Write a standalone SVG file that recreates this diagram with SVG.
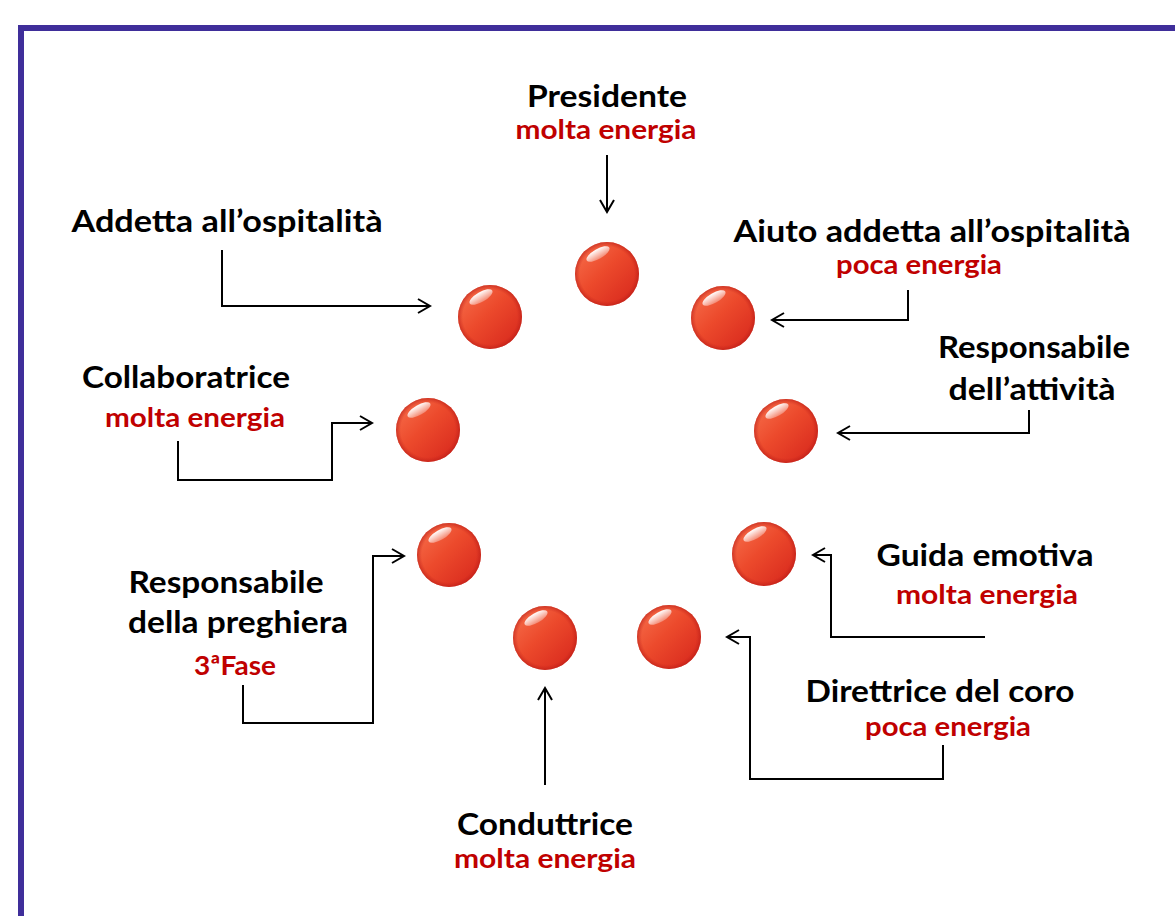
<svg xmlns="http://www.w3.org/2000/svg" width="1175" height="916" viewBox="0 0 1175 916">
<style>
.t{font-family:Lato,"Open Sans","Liberation Sans",sans-serif;font-weight:700;font-size:31px;fill:#000;text-anchor:middle}
.r{font-family:Lato,"Open Sans","Liberation Sans",sans-serif;font-weight:700;font-size:27px;fill:#c00000;text-anchor:middle}
.c{fill:none;stroke:#000;stroke-width:2}
</style>
<defs>
<linearGradient id="ball" x1="0" y1="0" x2="1" y2="1">
<stop offset="0" stop-color="#f8734f"/>
<stop offset="0.45" stop-color="#ec4a2c"/>
<stop offset="1" stop-color="#d5241b"/>
</linearGradient>
<radialGradient id="rim" cx="0.5" cy="0.5" r="0.5">
<stop offset="0.85" stop-color="#c0201a" stop-opacity="0"/>
<stop offset="1" stop-color="#b81c16" stop-opacity="0.6"/>
</radialGradient>
<linearGradient id="hl" x1="0" y1="0" x2="0" y2="1">
<stop offset="0" stop-color="#ffffff" stop-opacity="1"/>
<stop offset="1" stop-color="#ffffff" stop-opacity="0.3"/>
</linearGradient>
<marker id="ar" markerUnits="userSpaceOnUse" markerWidth="16" markerHeight="18" refX="14" refY="9" orient="auto">
<path d="M2,2 L14,9 L2,16" fill="none" stroke="#000" stroke-width="2"/>
</marker>
<g id="sphere">
<circle r="32" fill="url(#ball)"/>
<circle r="32" fill="url(#rim)"/>
<ellipse cx="-9" cy="-20" rx="13" ry="5" transform="rotate(-30 -9 -20)" fill="url(#hl)"/>
</g>
</defs>
<rect x="0" y="0" width="1175" height="916" fill="#fff"/>
<rect x="21" y="28" width="1200" height="1000" fill="none" stroke="#3f2e9a" stroke-width="6"/>

<g id="connectors">
<path class="c" d="M607,155 V212" marker-end="url(#ar)"/>
<path class="c" d="M222,250 V306 H430" marker-end="url(#ar)"/>
<path class="c" d="M908,290 V320 H772" marker-end="url(#ar)"/>
<path class="c" d="M1029,410 V433 H838" marker-end="url(#ar)"/>
<path class="c" d="M178,441 V480 H332 V423 H372" marker-end="url(#ar)"/>
<path class="c" d="M243,685 V723 H373 V556 H404" marker-end="url(#ar)"/>
<path class="c" d="M985,637 H831 V555 H813" marker-end="url(#ar)"/>
<path class="c" d="M943,745 V779 H750 V637 H727" marker-end="url(#ar)"/>
<path class="c" d="M545,785 V688" marker-end="url(#ar)"/>
</g>

<g id="spheres">
<use href="#sphere" x="607" y="274"/>
<use href="#sphere" x="490" y="317"/>
<use href="#sphere" x="723" y="318"/>
<use href="#sphere" x="428" y="430"/>
<use href="#sphere" x="786" y="431"/>
<use href="#sphere" x="449" y="555"/>
<use href="#sphere" x="764" y="554"/>
<use href="#sphere" x="545" y="638"/>
<use href="#sphere" x="669" y="637"/>
</g>

<g id="presidente">
<text class="t" x="607" y="107" textLength="160" lengthAdjust="spacingAndGlyphs">Presidente</text>
<text class="r" x="606" y="139" textLength="181" lengthAdjust="spacingAndGlyphs">molta energia</text>
</g>
<g id="addetta">
<text class="t" x="227" y="232" textLength="311" lengthAdjust="spacingAndGlyphs">Addetta all’ospitalità</text>
</g>
<g id="aiuto">
<text class="t" x="932" y="242" textLength="397" lengthAdjust="spacingAndGlyphs">Aiuto addetta all’ospitalità</text>
<text class="r" x="919" y="274" textLength="166" lengthAdjust="spacingAndGlyphs">poca energia</text>
</g>
<g id="responsabile-attivita">
<text class="t" x="1034" y="358" textLength="192" lengthAdjust="spacingAndGlyphs">Responsabile</text>
<text class="t" x="1032" y="400" textLength="167" lengthAdjust="spacingAndGlyphs">dell’attività</text>
</g>
<g id="collaboratrice">
<text class="t" x="186" y="388" textLength="208" lengthAdjust="spacingAndGlyphs">Collaboratrice</text>
<text class="r" x="195" y="427" textLength="180" lengthAdjust="spacingAndGlyphs">molta energia</text>
</g>
<g id="responsabile-preghiera">
<text class="t" x="226" y="593" textLength="195" lengthAdjust="spacingAndGlyphs">Responsabile</text>
<text class="t" x="238" y="633" textLength="220" lengthAdjust="spacingAndGlyphs">della preghiera</text>
<text class="r" x="235" y="675" font-size="29" textLength="82" lengthAdjust="spacingAndGlyphs">3ªFase</text>
</g>
<g id="guida">
<text class="t" x="985" y="566" textLength="217" lengthAdjust="spacingAndGlyphs">Guida emotiva</text>
<text class="r" x="987" y="604" textLength="182" lengthAdjust="spacingAndGlyphs">molta energia</text>
</g>
<g id="direttrice">
<text class="t" x="940" y="702" textLength="269" lengthAdjust="spacingAndGlyphs">Direttrice del coro</text>
<text class="r" x="948" y="736" textLength="166" lengthAdjust="spacingAndGlyphs">poca energia</text>
</g>
<g id="conduttrice">
<text class="t" x="545" y="835" textLength="176" lengthAdjust="spacingAndGlyphs">Conduttrice</text>
<text class="r" x="545" y="868" textLength="182" lengthAdjust="spacingAndGlyphs">molta energia</text>
</g>
</svg>
